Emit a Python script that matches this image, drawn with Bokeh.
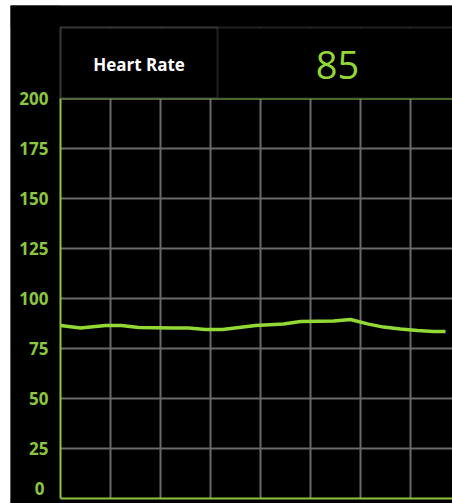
from bokeh.plotting import figure
from bokeh.models import Range1d, FixedTicker, BoxAnnotation, Label
from bokeh.embed import file_html
from bokeh.resources import INLINE

# ---- data ----
title_text = "Heart Rate"
current_value = 85
time_x = [0, 0.4, 0.9, 1.22, 1.56, 2.24, 2.56, 2.9, 3.24, 3.9, 4.46, 4.8,
          5.46, 5.8, 6.14, 6.46, 6.8, 7.14, 7.46, 7.7]
heart_rate = [86.5, 85.3, 86.5, 86.5, 85.5, 85.3, 85.3, 84.5, 84.5, 86.5, 87.3, 88.5,
              88.8, 89.5, 87.3, 85.7, 84.8, 84.0, 83.5, 83.5]
y_ticks = [0, 25, 50, 75, 100, 125, 150, 175, 200]
x_grid = [1, 2, 3, 4, 5, 6, 7]

GREEN_AX = "#8cc63f"
GREEN_LINE = "#92d936"
GRID = "#6a6a6a"

X0, X1 = -1.0, 7.84
Y0, Y1 = -2.5, 246.5
YMAX = y_ticks[-1]
HEADER_TOP = 235.5

p = figure(width=442, height=498, output_backend="svg", toolbar_location=None,
           x_range=Range1d(X0, X1), y_range=Range1d(Y0, Y1),
           min_border=0, min_border_left=0, min_border_right=0,
           min_border_top=0, min_border_bottom=0)
p.margin = (5, 0, 0, 10)
p.background_fill_color = "black"
p.border_fill_color = "black"
p.outline_line_color = None

p.xaxis.visible = False
p.xgrid.ticker = FixedTicker(ticks=x_grid)
p.ygrid.ticker = FixedTicker(ticks=y_ticks[1:-1])
p.grid.grid_line_color = GRID
p.grid.grid_line_width = 2

yax = p.yaxis[0]
yax.fixed_location = 0
yax.ticker = FixedTicker(ticks=y_ticks)
yax.major_label_overrides = {0: ""}
yax.axis_line_color = None
yax.major_tick_line_color = None
yax.minor_tick_line_color = None
yax.major_tick_in = 0
yax.major_tick_out = 0
yax.major_label_standoff = 12
yax.major_label_text_color = GREEN_AX
yax.major_label_text_font = "Open Sans"
yax.major_label_text_font_size = "17px"
yax.major_label_text_font_style = "bold"

# black covers outside the chart area (hide grid lines there)
p.quad(left=[X0, X0, X0], right=[0, X1, X1],
       bottom=[Y0, HEADER_TOP, Y0], top=[Y1, Y1, 0],
       fill_color="black", line_color=None)

# header panel
p.add_layout(BoxAnnotation(left=0, right=9, bottom=YMAX, top=HEADER_TOP,
                           fill_color="black", fill_alpha=1,
                           line_color=GRID, line_width=2))
p.add_layout(BoxAnnotation(left=0, right=3.14, bottom=YMAX, top=HEADER_TOP,
                           fill_alpha=0, line_color=GRID, line_width=2))

# green plot border (left, top, bottom)
p.segment(x0=[0, 0, 0], y0=[0, YMAX, 0], x1=[0, X1, X1], y1=[YMAX, YMAX, 0],
          line_color=GREEN_AX, line_width=2)

# bottom tick label kept inside the canvas
p.add_layout(Label(x=0, y=y_ticks[0], x_offset=-16, y_offset=4,
                   text=str(y_ticks[0]), text_align="right", text_baseline="bottom",
                   text_color=GREEN_AX, text_font="Open Sans",
                   text_font_size="17px", text_font_style="bold"))

p.add_layout(Label(x=1.57, y=217, text=title_text, text_align="center",
                   text_baseline="middle", text_color="white",
                   text_font="Open Sans", text_font_size="17px",
                   text_font_style="bold"))
p.add_layout(Label(x=5.54, y=217, text=str(current_value), text_align="center",
                   text_baseline="middle", text_color=GREEN_LINE,
                   text_font="Open Sans", text_font_size="38px"))

p.line(time_x, heart_rate, line_color=GREEN_LINE, line_width=3.5)

open("out.html", "w").write(file_html(p, INLINE))
